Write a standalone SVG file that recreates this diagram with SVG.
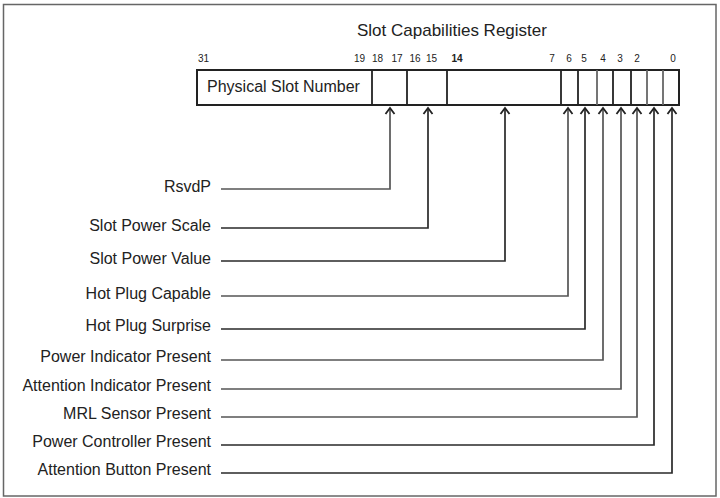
<svg xmlns="http://www.w3.org/2000/svg" width="720" height="498" viewBox="0 0 720 498">
<style>
text{font-family:"Liberation Sans",Arial,sans-serif;fill:#222}
.t{font-size:17px}
.b{font-size:10px;text-anchor:middle}
.l{font-size:16px;text-anchor:end}
.f{font-size:16px}
.box{fill:#fff;stroke:#222;stroke-width:2}
.div{stroke:#222;stroke-width:1.8}
.dg{stroke:#666;stroke-width:1.8}
.c{fill:none;stroke:#2a2a2a;stroke-width:1.7}
.cg{fill:none;stroke:#555;stroke-width:1.7}
</style>
<defs>
<marker id="ah" viewBox="-8 -6 10 12" refX="0" refY="0" markerWidth="10" markerHeight="12" markerUnits="userSpaceOnUse" orient="auto">
<path d="M-6,-4.5 L0,0 L-6,4.5" fill="none" stroke="#222" stroke-width="1.8"/>
</marker>
</defs>
<rect x="3.5" y="4.5" width="712.5" height="491.5" fill="#fff" stroke="#666" stroke-width="1.5"/>
<g id="title"><text class="t" x="357" y="36">Slot Capabilities Register</text></g>
<g id="bits">
<text class="b" x="203.5" y="62">31</text>
<text class="b" x="359.5" y="62">19</text>
<text class="b" x="377.5" y="62">18</text>
<text class="b" x="397" y="62">17</text>
<text class="b" x="415" y="62">16</text>
<text class="b" x="431.5" y="62">15</text>
<text class="b" x="457" y="62" font-weight="bold">14</text>
<text class="b" x="552" y="62">7</text>
<text class="b" x="569" y="62">6</text>
<text class="b" x="584" y="62">5</text>
<text class="b" x="603" y="62">4</text>
<text class="b" x="620" y="62">3</text>
<text class="b" x="637" y="62">2</text>
<text class="b" x="673" y="62">0</text>
</g>
<g id="register">
<rect class="box" x="197" y="70" width="482" height="35"/>
<line class="div" x1="372" y1="70" x2="372" y2="105"/>
<line class="div" x1="407" y1="70" x2="407" y2="105"/>
<line class="div" x1="447" y1="70" x2="447" y2="105"/>
<line class="div" x1="561" y1="70" x2="561" y2="105"/>
<line class="div" x1="578" y1="70" x2="578" y2="105"/>
<line class="dg" x1="597" y1="70" x2="597" y2="105"/>
<line class="div" x1="613" y1="70" x2="613" y2="105"/>
<line class="div" x1="631" y1="70" x2="631" y2="105"/>
<line class="dg" x1="647" y1="70" x2="647" y2="105"/>
<line class="dg" x1="663" y1="70" x2="663" y2="105"/>
<text class="f" x="207" y="92">Physical Slot Number</text>
</g>
<g id="label-rsvdp"><text class="l" x="211" y="192">RsvdP</text></g>
<g id="label-slot-power-scale"><text class="l" x="211" y="231">Slot Power Scale</text></g>
<g id="label-slot-power-value"><text class="l" x="211" y="264">Slot Power Value</text></g>
<g id="label-hot-plug-capable"><text class="l" x="211" y="299">Hot Plug Capable</text></g>
<g id="label-hot-plug-surprise"><text class="l" x="211" y="331">Hot Plug Surprise</text></g>
<g id="label-power-indicator"><text class="l" x="211" y="362">Power Indicator Present</text></g>
<g id="label-attention-indicator"><text class="l" x="211" y="391">Attention Indicator Present</text></g>
<g id="label-mrl-sensor"><text class="l" x="211" y="419">MRL Sensor Present</text></g>
<g id="label-power-controller"><text class="l" x="211" y="447">Power Controller Present</text></g>
<g id="label-attention-button"><text class="l" x="211" y="475">Attention Button Present</text></g>
<g id="connectors">
<path class="cg" d="M221,189 H390 V108" marker-end="url(#ah)"/>
<path class="c" d="M221,228 H428 V108" marker-end="url(#ah)"/>
<path class="c" d="M221,261 H505 V108" marker-end="url(#ah)"/>
<path class="cg" d="M221,296 H568 V108" marker-end="url(#ah)"/>
<path class="c" d="M221,329 H585 V108" marker-end="url(#ah)"/>
<path class="cg" d="M221,360 H603 V108" marker-end="url(#ah)"/>
<path class="cg" d="M221,389 H621 V108" marker-end="url(#ah)"/>
<path class="cg" d="M221,417 H637 V108" marker-end="url(#ah)"/>
<path class="c" d="M221,445 H654 V108" marker-end="url(#ah)"/>
<path class="c" d="M221,473 H672 V108" marker-end="url(#ah)"/>
</g>
</svg>
